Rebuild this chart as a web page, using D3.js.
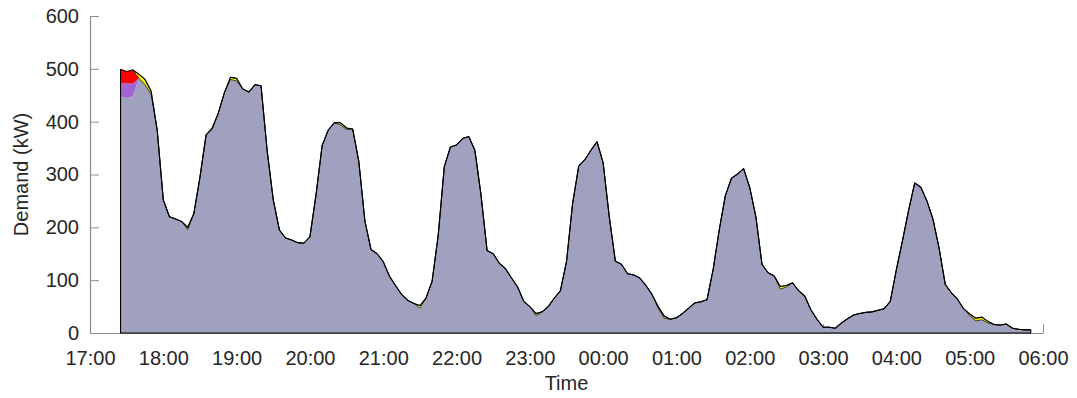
<!DOCTYPE html>
<html>
<head>
<meta charset="utf-8">
<script src="https://cdn.jsdelivr.net/npm/d3@7"></script>
<style>
  html, body { margin: 0; padding: 0; background: #fff; }
  svg text { font-family: "Liberation Sans", Arial, Helvetica, sans-serif; fill: #262626; }
</style>
</head>
<body>
<svg id="chart" width="1077" height="398"></svg>
<script>
// Five-minute samples of site demand (kW), 17:25 through 05:50 the next morning.
const sampleStart = "2016-01-01T17:25:00";
const sampleStepMinutes = 5;

// Underlying load, one value per sample
const baseLoad = [
  447, 445, 448, 482, 470, 452, 384, 252, 220, 216,
  211, 196, 226, 295, 375, 385, 416, 455, 480, 477,
  462, 456, 470, 468, 345, 252, 195, 180, 176, 171,
  170, 182, 262, 355, 384, 398, 394, 385, 386, 325,
  212, 158, 150, 133, 108,  90,  73,  62,  56,  47,
   66,  98, 185, 315, 352, 356, 368, 372, 346, 262,
  156, 150, 132, 119, 104,  87,  60,  50,  33,  40,
   50,  66,  80, 135, 245, 316, 328, 346, 362, 322,
  220, 136, 130, 112, 107, 104,  90,  73,  47,  28,
   26,  29,  37,  47,  57,  59,  63, 120, 195, 260,
  293, 301, 311, 275, 220, 130, 114, 108,  83,  87,
   95,  80,  70,  44,  26,  11,  11,   9,  19,  27,
   34,  37,  39,  40,  43,  46,  60, 120, 175, 232,
  281, 273, 250, 215, 160,  92,  76,  64,  46,  33,
   23,  25,  19,  16,  15,  17,   9,   7,   6,   6
];

// Additional load components stacked above the base (kW); zero where absent
const blueLoad = [
  0, 0, 0, 0, 0, 0, 0, 0, 0, 0,
  0, 0, 0, 0, 0, 0, 0, 0, 0, 0,
  0, 0, 0, 0, 0, 0, 0, 0, 0, 0,
  0, 0, 0, 0, 0, 0, 0, 0, 0, 0,
  0, 0, 0, 2, 0, 0, 0, 0, 0, 0,
  0, 0, 0, 0, 0, 0, 0, 0, 0, 0,
  0, 0, 0, 3, 0, 0, 0, 0, 0, 0,
  0, 0, 0, 0, 0, 0, 0, 0, 0, 0,
  0, 0, 0, 0, 3, 0, 0, 0, 0, 0,
  0, 0, 0, 0, 0, 0, 0, 0, 0, 0,
  0, 0, 0, 0, 0, 0, 0, 0, 0, 0,
  0, 0, 0, 0, 0, 0, 0, 0, 0, 0,
  0, 0, 0, 0, 0, 0, 0, 0, 0, 0,
  3, 3, 0, 0, 0, 0, 0, 0, 0, 0,
  0, 0, 0, 0, 0, 0, 0, 0, 0, 0
];
const purpleLoad = [
  25, 28, 24, 0, 0, 0, 0, 0, 0, 0,
  0, 0, 0, 0, 0, 0, 0, 0, 0, 0,
  0, 0, 0, 0, 0, 0, 0, 0, 0, 0,
  0, 0, 0, 0, 0, 0, 0, 0, 0, 0,
  0, 0, 0, 0, 0, 0, 0, 0, 0, 0,
  0, 0, 0, 0, 0, 0, 0, 0, 0, 0,
  0, 0, 0, 0, 0, 0, 0, 0, 0, 0,
  0, 0, 0, 0, 0, 0, 0, 0, 0, 0,
  0, 0, 0, 0, 0, 0, 0, 0, 0, 0,
  0, 0, 0, 0, 0, 0, 0, 0, 0, 0,
  0, 0, 0, 0, 0, 0, 0, 0, 0, 0,
  0, 0, 0, 0, 0, 0, 0, 0, 0, 0,
  0, 0, 0, 0, 0, 0, 0, 0, 0, 0,
  0, 0, 0, 0, 0, 0, 0, 0, 0, 0,
  0, 0, 0, 0, 0, 0, 0, 0, 0, 0
];
const redLoad = [
  27, 22, 26, 0, 0, 0, 0, 0, 0, 0,
  0, 0, 0, 0, 0, 0, 0, 0, 0, 0,
  0, 0, 0, 0, 0, 0, 0, 0, 0, 0,
  0, 0, 0, 0, 0, 0, 0, 0, 0, 0,
  0, 0, 0, 0, 0, 0, 0, 0, 0, 0,
  0, 0, 0, 0, 0, 0, 0, 0, 0, 0,
  0, 0, 0, 0, 0, 0, 0, 0, 0, 0,
  0, 0, 0, 0, 0, 0, 0, 0, 0, 0,
  0, 0, 0, 0, 0, 0, 0, 0, 0, 0,
  0, 0, 0, 0, 0, 0, 0, 0, 0, 0,
  0, 0, 0, 0, 0, 0, 0, 0, 0, 0,
  0, 0, 0, 0, 0, 0, 0, 0, 0, 0,
  0, 0, 0, 0, 0, 0, 0, 0, 0, 0,
  0, 0, 0, 0, 0, 0, 0, 0, 0, 0,
  0, 0, 0, 0, 0, 0, 0, 0, 0, 0
];
const yellowLoad = [
  0, 0, 0, 8, 10, 6, 0, 0, 0, 0,
  0, 4, 0, 0, 0, 3, 0, 0, 4, 5,
  0, 0, 0, 0, 0, 0, 0, 0, 0, 0,
  0, 0, 0, 0, 0, 0, 4, 3, 0, 0,
  0, 0, 0, 0, 0, 0, 0, 0, 0, 5,
  0, 0, 0, 0, 0, 0, 0, 0, 0, 0,
  0, 0, 0, 0, 0, 0, 0, 0, 4, 0,
  0, 0, 0, 0, 0, 0, 0, 0, 0, 0,
  0, 0, 0, 0, 0, 0, 0, 0, 3, 4,
  0, 0, 0, 0, 0, 0, 0, 0, 0, 0,
  0, 0, 0, 0, 0, 0, 0, 0, 5, 3,
  0, 0, 0, 0, 0, 0, 0, 0, 0, 0,
  0, 0, 0, 0, 0, 0, 0, 0, 0, 0,
  0, 0, 0, 0, 0, 0, 0, 0, 0, 3,
  5, 5, 3, 0, 0, 0, 0, 0, 0, 0
];

const seriesKeys = ["base", "blue", "purple", "red", "yellow"];
const seriesColors = ["#a0a0bf", "#6b6be8", "#a465d4", "#ff0000", "#f4f400"];

const yTicks = [0, 100, 200, 300, 400, 500, 600];
const xDomain = ["2016-01-01T17:00:00", "2016-01-02T06:00:00"];

// Assemble rows for the stack layout
const t0 = new Date(sampleStart);
const rows = baseLoad.map((v, i) => ({
  time: new Date(t0.getTime() + i * sampleStepMinutes * 60000),
  base: v,
  blue: blueLoad[i],
  purple: purpleLoad[i],
  red: redLoad[i],
  yellow: yellowLoad[i]
}));

const svg = d3.select("#chart");
const plot = { left: 90, right: 1043, top: 16, bottom: 333 };

const x = d3.scaleTime()
  .domain(xDomain.map(s => new Date(s)))
  .range([plot.left, plot.right]);
const y = d3.scaleLinear()
  .domain([0, 600])
  .range([plot.bottom, plot.top]);

const axisColor = "#8c8c8c";
const tickLen = 9;

// Axes with inward ticks, drawn beneath the data
const yAxis = svg.append("g")
  .attr("transform", `translate(${plot.left},0)`)
  .call(d3.axisLeft(y).tickValues(yTicks).tickSizeInner(-tickLen).tickSizeOuter(0).tickPadding(11 + tickLen));
const xAxis = svg.append("g")
  .attr("transform", `translate(0,${plot.bottom})`)
  .call(d3.axisBottom(x)
    .ticks(d3.timeHour.every(1))
    .tickFormat(d3.timeFormat("%H:%M"))
    .tickSizeInner(-tickLen).tickSizeOuter(0).tickPadding(11 + tickLen));

[yAxis, xAxis].forEach(g => {
  g.selectAll(".domain").attr("stroke", axisColor).attr("stroke-width", 1.2);
  g.selectAll(".tick line").attr("stroke", axisColor).attr("stroke-width", 1);
  g.selectAll(".tick text").attr("font-size", 20).attr("fill", "#262626");
});
yAxis.selectAll(".tick text").attr("x", -11);
xAxis.selectAll(".tick text").attr("y", 18);

// Stacked demand components
const stacked = d3.stack().keys(seriesKeys)(rows);
const area = d3.area()
  .x(d => x(d.data.time))
  .y0(d => y(d[0]))
  .y1(d => y(d[1]));

svg.append("g").selectAll("path")
  .data(stacked)
  .join("path")
  .attr("d", area)
  .attr("fill", (d, i) => seriesColors[i])
  .attr("stroke", d => d.key === "yellow" ? "#111" : "none")
  .attr("stroke-width", 0.8)
  .attr("stroke-linejoin", "round");

// Outline of the total demand; the red peak at the start is left unoutlined on top
const topLayer = stacked[stacked.length - 1];
const lastRed = d3.max(rows.map((r, i) => (r.red > 0 ? i : -1)));
const outline = d3.line()
  .defined((d, i) => i >= lastRed)
  .x(d => x(d.data.time))
  .y(d => y(d[1]));
const outlineG = svg.append("g")
  .attr("fill", "none")
  .attr("stroke", "#000")
  .attr("stroke-width", 1.1)
  .attr("stroke-linejoin", "round");
outlineG.append("path").attr("d", outline(topLayer));
// left edge, baseline and right edge
const firstPt = topLayer[0], lastPt = topLayer[topLayer.length - 1];
outlineG.append("path").attr("d", d3.line()([
  [x(firstPt.data.time), y(firstPt[1])],
  [x(firstPt.data.time), y(0)],
  [x(lastPt.data.time), y(0)],
  [x(lastPt.data.time), y(lastPt[1])]
]));

// Axis titles
svg.append("text")
  .attr("x", (plot.left + plot.right) / 2)
  .attr("y", 390)
  .attr("text-anchor", "middle")
  .attr("font-size", 20)
  .text("Time");
svg.append("text")
  .attr("transform", `translate(28,${(plot.top + plot.bottom) / 2}) rotate(-90)`)
  .attr("text-anchor", "middle")
  .attr("font-size", 20)
  .text("Demand (kW)");
</script>
</body>
</html>
